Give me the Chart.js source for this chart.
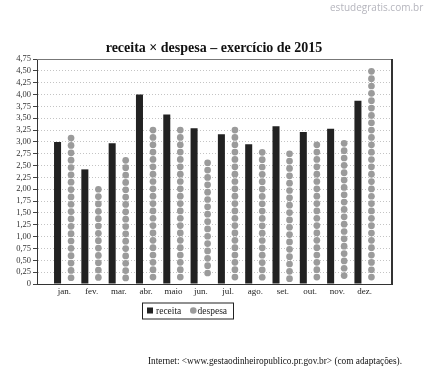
<!DOCTYPE html>
<html>
<head>
<meta charset="utf-8">
<script src="https://cdn.jsdelivr.net/npm/chart.js@4.4.0/dist/chart.umd.min.js"></script>
<style>
html,body{margin:0;padding:0;background:#fff;}
#wrap{width:426px;height:383px;position:relative;}
</style>
</head>
<body>
<div id="wrap"><canvas id="c"></canvas></div>
<script>
const months = ['jan.','fev.','mar.','abr.','maio','jun.','jul.','ago.','set.','out.','nov.','dez.'];
const receita = [3.00, 2.42, 2.97, 4.00, 3.58, 3.29, 3.16, 2.95, 3.33, 3.21, 3.28, 3.87];
const despesa = [3.08, 2.00, 2.61, 3.25, 3.25, 2.56, 3.25, 2.78, 2.75, 2.94, 2.97, 4.49];
const titleText = 'receita \u00d7 despesa \u2013 exerc\u00edcio de 2015';
const sourceText = 'Internet: <www.gestaodinheiropublico.pr.gov.br> (com adapta\u00e7\u00f5es).';
const watermark = 'estudegratis.com.br';

// padded with empty slots at both ends to reproduce the side margins of the plot
const labels = [''].concat(months, ['']);
const pad = a => [null].concat(a, [null]);

const SERIF = '"Liberation Serif", "Times New Roman", serif';
const DOT_COLOR = '#9b9b9b';
const BAR_COLOR = '#222222';

const decor = {
  id: 'decor',
  afterDatasetsDraw(chart) {
    const ctx = chart.ctx;
    const meta = chart.getDatasetMeta(1);
    ctx.save();
    ctx.fillStyle = DOT_COLOR;
    meta.data.forEach(el => {
      if (el.skip || !isFinite(el.y) || !isFinite(el.base)) return;
      const step = 7.35, r = 3.35;
      for (let cy = el.y; cy <= el.base - 4; cy += step) {
        ctx.beginPath();
        ctx.arc(el.x, cy, r, 0, Math.PI * 2);
        ctx.fill();
      }
    });
    ctx.restore();
  },
  afterDraw(chart) {
    const ctx = chart.ctx;
    const a = chart.chartArea;
    ctx.save();
    // frame: top and right
    ctx.strokeStyle = '#777';
    ctx.lineWidth = 1;
    ctx.beginPath();
    ctx.moveTo(a.left, a.top + 0.5);
    ctx.lineTo(a.right, a.top + 0.5);
    ctx.stroke();
    ctx.strokeStyle = '#333';
    ctx.lineWidth = 2;
    ctx.beginPath();
    ctx.moveTo(a.right, a.top);
    ctx.lineTo(a.right, a.bottom + 1);
    ctx.stroke();

    // title
    ctx.fillStyle = '#111';
    ctx.font = 'bold 14px ' + SERIF;
    ctx.textAlign = 'center';
    ctx.textBaseline = 'middle';
    ctx.fillText(titleText, 214, 48);

    // legend
    const lx = 142, ly = 302.5, lw = 91, lh = 16;
    ctx.fillStyle = '#fff';
    ctx.fillRect(lx, ly, lw, lh);
    ctx.strokeStyle = '#222';
    ctx.lineWidth = 1;
    ctx.strokeRect(lx + 0.5, ly + 0.5, lw, lh);
    ctx.fillStyle = BAR_COLOR;
    ctx.fillRect(147, 307.5, 6, 6);
    ctx.font = '9.5px ' + SERIF;
    ctx.textAlign = 'left';
    ctx.fillStyle = '#222';
    ctx.fillText(chart.data.datasets[0].label, 156, 311);
    ctx.fillStyle = DOT_COLOR;
    ctx.beginPath();
    ctx.arc(193.3, 310.5, 3.3, 0, Math.PI * 2);
    ctx.fill();
    ctx.fillStyle = '#222';
    ctx.fillText(chart.data.datasets[1].label, 197.5, 311);

    // source
    ctx.font = '9.3px ' + SERIF;
    ctx.textAlign = 'right';
    ctx.fillStyle = '#111';
    ctx.fillText(sourceText, 402, 362);

    // watermark
    ctx.font = '10px "Open Sans", sans-serif';
    ctx.fillStyle = '#b5b5bd';
    ctx.textAlign = 'left';
    ctx.fillText(watermark, 330, 8);
    ctx.restore();
  }
};

new Chart(document.getElementById('c'), {
  type: 'bar',
  data: {
    labels: labels,
    datasets: [
      { label: 'receita', data: pad(receita), backgroundColor: BAR_COLOR, borderWidth: 0 },
      { label: 'despesa', data: pad(despesa), backgroundColor: 'rgba(0,0,0,0)', borderWidth: 0 }
    ]
  },
  options: {
    responsive: true,
    maintainAspectRatio: false,
    animation: false,
    events: [],
    categoryPercentage: 0.99,
    barPercentage: 0.52,
    layout: { padding: { top: 59, right: 34, left: 0, bottom: 0 } },
    plugins: { legend: { display: false }, title: { display: false }, tooltip: { enabled: false } },
    scales: {
      x: {
        offset: false,
        grid: { display: false, drawTicks: false },
        border: { display: true, color: '#333', width: 1 },
        ticks: { color: '#222', font: { family: SERIF, size: 9 }, padding: 2, autoSkip: false, maxRotation: 0 },
        afterFit(s) { s.height = 99; }
      },
      y: {
        min: 0, max: 4.75,
        ticks: {
          stepSize: 0.25,
          autoSkip: false,
          color: '#333',
          font: { family: SERIF, size: 8.5 },
          padding: 2,
          callback: v => v === 0 ? '0' : Number(v).toFixed(2).replace('.', ',')
        },
        grid: { color: '#c4c4c4', lineWidth: 1, tickLength: 4, tickColor: '#444', tickBorderDash: [] },
        border: { display: true, color: '#333', width: 1, dash: [1, 2] },
        afterFit(s) { s.width = 37; }
      }
    }
  },
  plugins: [decor]
});
</script>
</body>
</html>
